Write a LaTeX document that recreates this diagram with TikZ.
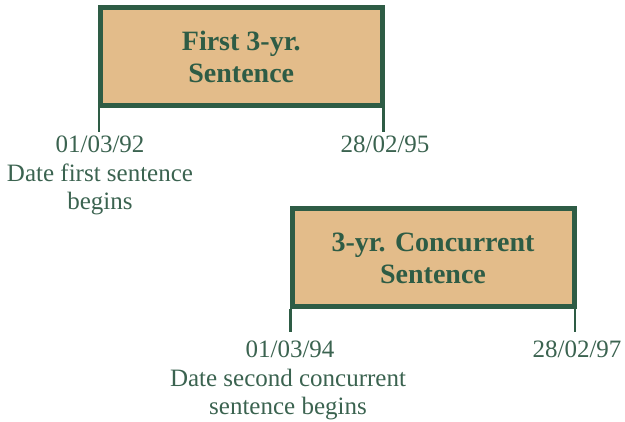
\documentclass[tikz,border=0pt]{standalone}
\usepackage{fontspec}
\setmainfont{Liberation Serif}
\definecolor{boxgreen}{HTML}{2E5C45}
\definecolor{boxfill}{HTML}{E3BC8A}
\definecolor{labgreen}{HTML}{3B6350}
\tikzset{
  sentbox/.style={draw=boxgreen, fill=boxfill, line width=5pt, minimum width=282pt, minimum height=98pt,
    inner sep=0pt, align=center, text=boxgreen, font=\fontsize{28}{32}\selectfont\bfseries},
  leg/.style={draw=boxgreen, line width=2.4pt},
  datelab/.style={text=labgreen, font=\fontsize{25}{30}\selectfont, inner sep=0pt, anchor=base},
  desclab/.style={text=labgreen, font=\fontsize{25}{27.5}\selectfont, inner sep=0pt, align=center, anchor=north}
}
\begin{document}
\begin{tikzpicture}[x=1pt,y=-1pt]
\useasboundingbox (0,0) rectangle (625,422);
% box 1
\node[sentbox] (b1) at (241.25,56.75) {First 3-yr.\\Sentence};
\coordinate (l1) at (98.7,132);
\coordinate (r1) at (383.6,132);
\draw[leg] (b1.south west -| l1) -- (l1);
\draw[leg] (b1.south east -| r1) -- (r1);
\node[datelab] (d1) at (100,153) {01/03/92};
\node[datelab] (e1) at (385,153) {28/02/95};
\node[desclab] (t1) at (100,164) {Date first sentence\\begins};
% box 2
\node[sentbox] (b2) at (433,258) {3-yr. Concurrent\\Sentence};
\coordinate (l2) at (290.5,332);
\coordinate (r2) at (575,332);
\draw[leg] (b2.south west -| l2) -- (l2);
\draw[leg] (b2.south east -| r2) -- (r2);
\node[datelab] (d2) at (290,358) {01/03/94};
\node[datelab] (e2) at (577,358) {28/02/97};
\node[desclab] (t2) at (288,369) {Date second concurrent\\sentence begins};
\end{tikzpicture}
\end{document}
